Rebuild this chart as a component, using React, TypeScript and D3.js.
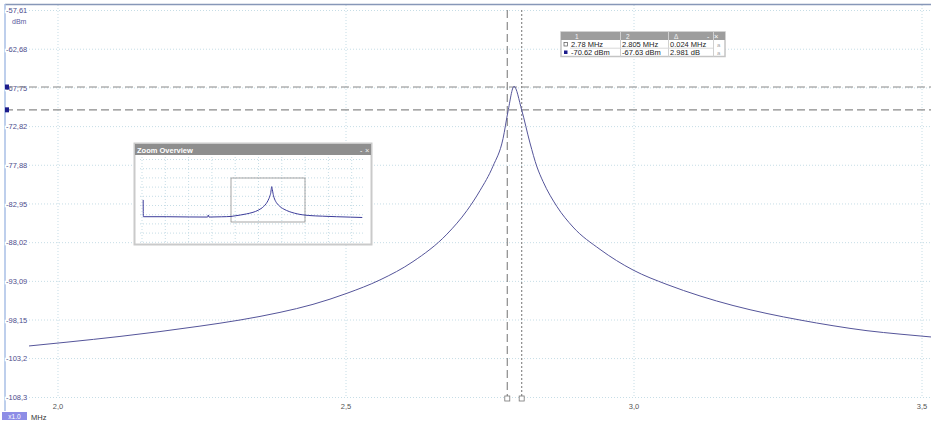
import { useMemo } from "react";
import * as d3 from "d3";

const WIDTH = 931;
const HEIGHT = 421;

// measured trace, MHz / dBm
const traceFreq = [
  1.9497, 2.0156, 2.1076, 2.2465, 2.316, 2.3854, 2.4427, 2.5017, 2.559, 2.6163,
  2.6753, 2.7101, 2.7326, 2.7552, 2.7726, 2.7813, 2.7917, 2.805, 2.8194, 2.8316,
  2.842, 2.8663, 2.8941, 2.941, 2.9983, 3.0573, 3.1146, 3.1719, 3.2309, 3.2882,
  3.3455, 3.4045, 3.4618, 3.5156,
];
const traceDbm = [
  -101.55, -101.05, -100.3, -98.95, -98.15, -97.15, -96.1, -94.65, -92.9, -90.5,
  -86.9, -83.8, -81.2, -78.0, -74.4, -70.8, -67.55, -70.64, -74.96, -78.11,
  -80.0, -83.3, -85.97, -88.9, -91.6, -93.5, -95.0, -96.25, -97.3, -98.15,
  -98.9, -99.55, -100.0, -100.37,
];

// parts of the sweep only seen in the zoom overview
const overviewLowFreq = [0.0, 0.004, 0.5, 1.0, 1.4, 1.415, 1.43, 1.7, 1.93];
const overviewLowDbm = [-82.9, -102.2, -102.2, -102.5, -102.6, -100.2, -102.6, -102.3, -101.8];
const overviewHighFreq = [3.6, 3.9, 4.2, 4.5, 4.76];
const overviewHighDbm = [-100.8, -101.6, -102.2, -102.7, -103.1];

const yTicks = [-57.61, -62.68, -67.75, -72.82, -77.88, -82.95, -88.02, -93.09, -98.15, -103.2, -108.3];
const yTickLabels = ["-57,61", "-62,68", "-67,75", "-72,82", "-77,88", "-82,95", "-88,02", "-93,09", "-98,15", "-103,2", "-108,3"];
const xTicks = [2.0, 2.5, 3.0, 3.5];
const xTickLabels = ["2,0", "2,5", "3,0", "3,5"];

const markerFreq = [2.78, 2.805];
const markerDbm = [-70.62, -67.63];
const markerCols = ["1", "2", "Δ"];
const markerFreqText = ["2.78 MHz", "2.805 MHz", "0.024 MHz"];
const markerDbmText = ["-70.62 dBm", "-67.63 dBm", "2.981 dB"];

const FONT = "'Liberation Sans', Arial, sans-serif";
const TRACE = "#55559a";
const GRID = "#c6dde6";

export default function App() {
  const x = useMemo(() => d3.scaleLinear().domain([1.908, 3.5156]).range([5, 931]), []);
  const y = useMemo(() => d3.scaleLinear().domain([-57.61, -108.3]).range([10.5, 397.5]), []);

  // overview scales: the main view maps onto the grey viewport box
  const ox = d3.scaleLinear().domain([1.908, 3.5156]).range([231, 305]);
  const oy = d3.scaleLinear().domain([-57.61, -108.3]).range([178, 222]);

  const trace = traceFreq.map((f, i) => [f, traceDbm[i]] as [number, number]);
  const line = d3
    .line<[number, number]>()
    .x((d) => x(d[0]))
    .y((d) => y(d[1]))
    .curve(d3.curveMonotoneX);

  const overviewData = [
    ...overviewLowFreq.map((f, i) => [f, overviewLowDbm[i]] as [number, number]),
    ...trace,
    ...overviewHighFreq.map((f, i) => [f, overviewHighDbm[i]] as [number, number]),
  ];
  const oline = d3
    .line<[number, number]>()
    .x((d) => ox(d[0]))
    .y((d) => oy(d[1]))
    .curve(d3.curveMonotoneX);

  // marker table layout
  const tx = 561;
  const ty = 32;
  const colX = [570, 621, 669, 714];

  return (
    <div style={{ position: "fixed", left: 0, top: 0 }}>
      <svg width={WIDTH} height={HEIGHT} style={{ display: "block", background: "#fff" }} fontFamily={FONT}>
        {/* grid */}
        {xTicks.map((t) => (
          <line key={t} x1={x(t)} x2={x(t)} y1={5} y2={398} stroke={GRID} strokeDasharray="1,2" />
        ))}
        {yTicks.map((t) => (
          <line key={t} x1={5} x2={WIDTH} y1={y(t)} y2={y(t)} stroke={GRID} strokeDasharray="1,2" />
        ))}

        {/* frame */}
        <line x1={5} x2={WIDTH} y1={4.5} y2={4.5} stroke="#8797b8" strokeWidth={1.5} />
        <line x1={5} x2={5} y1={4} y2={411} stroke="#a9bfe6" strokeWidth={1.5} />

        {/* y labels */}
        {yTicks.map((t, i) => (
          <text
            key={t}
            x={6}
            y={y(t)}
            dy="0.35em"
            fontSize={7.5}
            fill="#4d4d8c"
            stroke="#fff"
            strokeWidth={3}
            paintOrder="stroke"
          >
            {yTickLabels[i]}
          </text>
        ))}
        <text x={12} y={24} fontSize={7} fill="#5a5aa0">dBm</text>

        {/* x labels */}
        {xTicks.map((t, i) => (
          <text key={t} x={x(t)} y={409} textAnchor="middle" fontSize={7.5} fill="#555">
            {xTickLabels[i]}
          </text>
        ))}
        <rect x={2} y={412} width={25} height={8} fill="#8d8de6" />
        <text x={14.5} y={418.5} textAnchor="middle" fontSize={6.5} fill="#fff">x1.0</text>
        <text x={31} y={419.5} fontSize={7.5} fill="#333">MHz</text>

        {/* marker lines */}
        {markerDbm.map((d) => (
          <line key={d} x1={5} x2={WIDTH} y1={y(d)} y2={y(d)} stroke="#8a8a8a" strokeWidth={1.2} strokeDasharray="8,4" />
        ))}
        <line x1={x(markerFreq[0])} x2={x(markerFreq[0])} y1={10} y2={396} stroke="#8a8a8a" strokeWidth={1.2} strokeDasharray="8,4" />
        <line x1={x(markerFreq[1])} x2={x(markerFreq[1])} y1={10} y2={396} stroke="#8a8a8a" strokeWidth={1.2} strokeDasharray="2,2" />
        {markerFreq.map((f) => (
          <rect key={f} x={x(f) - 2.5} y={396} width={5} height={5} fill="#fff" stroke="#777" strokeWidth={0.8} />
        ))}
        {markerDbm.map((d) => (
          <rect key={d} x={5} y={y(d) - 2.5} width={4} height={5} fill="#1c1c8c" />
        ))}

        {/* trace */}
        <path d={line(trace) ?? ""} fill="none" stroke={TRACE} strokeWidth={1} />

        {/* zoom overview */}
        <g>
          <rect x={134.5} y={143.5} width={237} height={101} fill="#fff" stroke="#cacaca" strokeWidth={2} />
          <rect x={135} y={144} width={236} height={11} fill="#8e8e8e" />
          <text x={137} y={152.5} fontSize={7.5} fontWeight="bold" fill="#fff">Zoom Overview</text>
          <text x={360} y={152.5} fontSize={7} fill="#fff">-</text>
          <text x={365} y={152.5} fontSize={7.5} fill="#eee">×</text>
          {d3.range(10).map((i) => (
            <line key={"h" + i} x1={140} x2={364} y1={159.5 + i * 9.2} y2={159.5 + i * 9.2} stroke={GRID} strokeDasharray="1,2" />
          ))}
          {d3.range(10).map((i) => (
            <line key={"v" + i} x1={142 + i * 23.3} x2={142 + i * 23.3} y1={157} y2={243} stroke={GRID} strokeDasharray="1,2" />
          ))}
          <rect
            x={ox(x.domain()[0])}
            y={oy(y.domain()[0])}
            width={ox(x.domain()[1]) - ox(x.domain()[0])}
            height={oy(y.domain()[1]) - oy(y.domain()[0])}
            fill="none"
            stroke="#8f8f8f"
            strokeWidth={0.8}
          />
          <path d={oline(overviewData) ?? ""} fill="none" stroke="#3c3c9a" strokeWidth={1} />
        </g>

        {/* marker table */}
        <g fontSize={7.5}>
          <rect x={tx} y={ty} width={164} height={24.5} fill="#fff" stroke="#c4c4c4" strokeWidth={1.5} />
          <rect x={tx} y={ty} width={164} height={8} fill="#9d9d9d" />
          {markerCols.map((c, i) => (
            <text key={c} x={colX[i] + 5} y={ty + 6.5} fontSize={6.5} fill="#f4f4f4">{c}</text>
          ))}
          <text x={707} y={ty + 6.5} fontSize={7} fill="#fff">-</text>
          <text x={714} y={ty + 6.8} fontSize={7.5} fill="#fff">×</text>
          {colX.slice(1).map((cx) => (
            <line key={cx} x1={cx - 0.5} x2={cx - 0.5} y1={ty} y2={ty + 24.5} stroke="#d0d0d0" />
          ))}
          <line x1={colX[0]} x2={713} y1={ty + 16.2} y2={ty + 16.2} stroke="#d8d8d8" />
          {markerFreqText.map((t, i) => (
            <text key={t} x={colX[i] + 1} y={ty + 14.5} fill="#222">{t}</text>
          ))}
          {markerDbmText.map((t, i) => (
            <text key={t} x={colX[i] + 1} y={ty + 22.5} fill="#222">{t}</text>
          ))}
          <rect x={564} y={ty + 10.5} width={3.5} height={3.5} fill="#fff" stroke="#555" strokeWidth={0.7} />
          <rect x={564} y={ty + 18.5} width={3.5} height={3.5} fill="#1c1c8c" />
          <text x={717} y={ty + 14.5} fontSize={6} fill="#aaa">a</text>
          <text x={717} y={ty + 22.5} fontSize={6} fill="#aaa">a</text>
        </g>
      </svg>
    </div>
  );
}
